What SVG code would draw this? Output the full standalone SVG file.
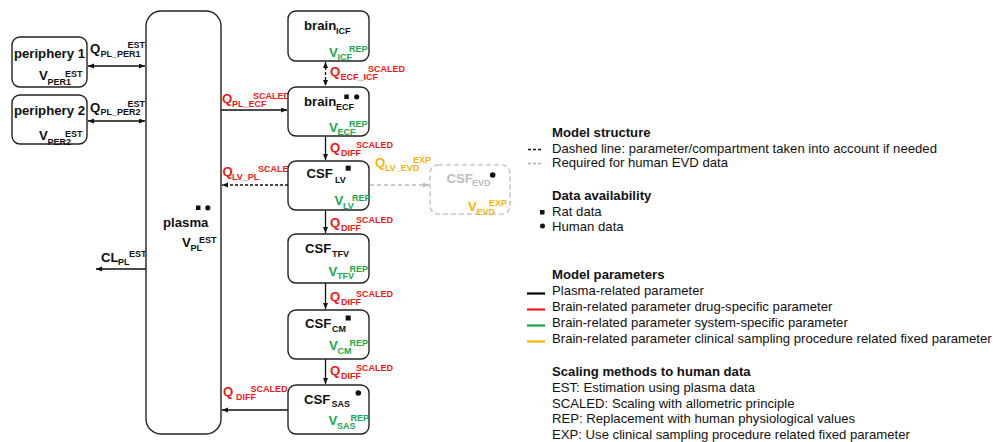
<svg xmlns="http://www.w3.org/2000/svg" width="993" height="442" viewBox="0 0 993 442">
<style>
.box{fill:#fff;stroke:#222;stroke-width:1.4}
.evd{fill:#fff;stroke:#c8c8c8;stroke-width:1.6;stroke-dasharray:5 3}
text{font-family:"Liberation Sans",Arial,Helvetica,sans-serif}
.t{font-weight:bold;fill:#111}
.n{font-size:13.2px}
.s{font-size:9px}
.r{fill:#f51616}
.g{fill:#17a84b}
.o{fill:#f7b500}
.gr{fill:#bdbdbd}
.lg{font-size:13.15px;fill:#111}
.lgb{font-size:13.15px;font-weight:bold;fill:#111}
.ln{stroke:#111;stroke-width:1.3;fill:none}
.dash{stroke-dasharray:3 2}
.gln{stroke:#bdbdbd;stroke-width:1.5;stroke-dasharray:4 3;fill:none}
</style>
<defs>
<marker id="ah" markerUnits="userSpaceOnUse" markerWidth="7" markerHeight="6" refX="6" refY="2.5" orient="auto-start-reverse"><path d="M0,0 L6,2.5 L0,5 z" fill="#111"/></marker>
<marker id="ahg" markerUnits="userSpaceOnUse" markerWidth="7" markerHeight="6" refX="6" refY="2.5" orient="auto-start-reverse"><path d="M0,0 L6,2.5 L0,5 z" fill="#bdbdbd"/></marker>
</defs>

<g id="connectors">
<line class="ln" x1="88" y1="66" x2="145" y2="66" marker-start="url(#ah)" marker-end="url(#ah)"/>
<line class="ln" x1="88" y1="121" x2="145" y2="121" marker-start="url(#ah)" marker-end="url(#ah)"/>
<line class="ln" x1="146" y1="269" x2="96" y2="269" marker-end="url(#ah)"/>
<line class="ln" x1="221" y1="110" x2="287" y2="110" marker-end="url(#ah)"/>
<line class="ln dash" x1="325.5" y1="62" x2="325.5" y2="86" marker-start="url(#ah)" marker-end="url(#ah)"/>
<line class="ln" x1="325.5" y1="136" x2="325.5" y2="160" marker-end="url(#ah)"/>
<line class="ln" x1="325.5" y1="210" x2="325.5" y2="233" marker-end="url(#ah)"/>
<line class="ln" x1="325.5" y1="283" x2="325.5" y2="309" marker-end="url(#ah)"/>
<line class="ln" x1="325.5" y1="359" x2="325.5" y2="384" marker-end="url(#ah)"/>
<line class="ln dash" x1="288" y1="185" x2="222" y2="185" marker-end="url(#ah)"/>
<line class="ln" x1="288" y1="410" x2="222" y2="410" marker-end="url(#ah)"/>
<line class="gln" x1="370" y1="185" x2="429" y2="185" marker-end="url(#ahg)"/>
</g>

<g id="connector-labels">
<text class="t"><tspan class="n" x="90" y="53">Q</tspan><tspan class="s" x="100.5" y="56.5">PL_PER1</tspan><tspan class="s" x="127.5" y="48">EST</tspan></text>
<text class="t"><tspan class="n" x="90" y="111.5">Q</tspan><tspan class="s" x="100.5" y="115">PL_PER2</tspan><tspan class="s" x="127.5" y="106.5">EST</tspan></text>
<text class="t"><tspan class="n" x="101" y="261.5">CL</tspan><tspan class="s" x="118" y="264.5">PL</tspan><tspan class="s" x="129" y="256.5">EST</tspan></text>
<text class="t r"><tspan class="n" x="222" y="103">Q</tspan><tspan class="s" x="232" y="106.5">PL_ECF</tspan><tspan class="s" x="253" y="98.5">SCALED</tspan></text>
<text class="t r"><tspan class="n" x="330" y="76">Q</tspan><tspan class="s" x="340.5" y="79.5">ECF_ICF</tspan><tspan class="s" x="368" y="71.5">SCALED</tspan></text>
<text class="t r"><tspan class="n" x="330" y="151.5">Q</tspan><tspan class="s" x="341" y="155.5">DIFF</tspan><tspan class="s" x="356" y="147.5">SCALED</tspan></text>
<text class="t r"><tspan class="n" x="330" y="226.5">Q</tspan><tspan class="s" x="341" y="230.5">DIFF</tspan><tspan class="s" x="356" y="222.5">SCALED</tspan></text>
<text class="t r"><tspan class="n" x="330" y="300.5">Q</tspan><tspan class="s" x="341" y="304.5">DIFF</tspan><tspan class="s" x="356" y="296.5">SCALED</tspan></text>
<text class="t r"><tspan class="n" x="330" y="375">Q</tspan><tspan class="s" x="341" y="379">DIFF</tspan><tspan class="s" x="356" y="371">SCALED</tspan></text>
<text class="t r"><tspan class="n" x="222.5" y="176">Q</tspan><tspan class="s" x="232" y="179.5">LV_PL</tspan><tspan class="s" x="258" y="171.5">SCALED</tspan></text>
<text class="t o"><tspan class="n" x="375" y="167">Q</tspan><tspan class="s" x="385" y="170.5">LV_EVD</tspan><tspan class="s" x="413" y="162.5">EXP</tspan></text>
<text class="t r"><tspan class="n" x="223" y="396">Q</tspan><tspan class="s" x="236" y="399.5">DIFF</tspan><tspan class="s" x="250.5" y="391.5">SCALED</tspan></text>
</g>

<g id="periphery1">
<rect class="box" x="12" y="37" width="75" height="50" rx="8"/>
<text class="t n" x="49.5" y="58" text-anchor="middle">periphery 1</text>
<text class="t"><tspan class="n" x="39" y="80">V</tspan><tspan class="s" x="47.5" y="84.5">PER1</tspan><tspan class="s" x="65" y="77">EST</tspan></text>
</g>

<g id="periphery2">
<rect class="box" x="12" y="95" width="75" height="49" rx="8"/>
<text class="t n" x="49.5" y="115" text-anchor="middle">periphery 2</text>
<text class="t"><tspan class="n" x="39" y="140">V</tspan><tspan class="s" x="47.5" y="144.5">PER2</tspan><tspan class="s" x="65" y="137">EST</tspan></text>
</g>

<g id="plasma">
<rect class="box" x="146" y="11" width="75" height="423" rx="15"/>
<rect x="196" y="205.5" width="4.5" height="4.5" fill="#111"/>
<circle cx="207.8" cy="207.8" r="2.6" fill="#111"/>
<text class="t n" x="163" y="227">plasma</text>
<text class="t"><tspan class="n" x="182" y="247">V</tspan><tspan class="s" x="190.5" y="250.5">PL</tspan><tspan class="s" x="199" y="242.5">EST</tspan></text>
</g>

<g id="brain_ICF">
<rect class="box" x="288" y="11" width="81" height="50" rx="8"/>
<text class="t"><tspan class="n" x="304" y="30">brain</tspan><tspan class="s" x="336" y="34">ICF</tspan></text>
<text class="t g"><tspan class="n" x="329" y="56.5">V</tspan><tspan class="s" x="337.5" y="60">ICF</tspan><tspan class="s" x="349" y="52">REP</tspan></text>
</g>

<g id="brain_ECF">
<rect class="box" x="288" y="87" width="81" height="49" rx="8"/>
<rect x="344.3" y="94.5" width="4.5" height="4.5" fill="#111"/>
<circle cx="356.7" cy="96.8" r="2.6" fill="#111"/>
<text class="t"><tspan class="n" x="304" y="106">brain</tspan><tspan class="s" x="336" y="110">ECF</tspan></text>
<text class="t g"><tspan class="n" x="329" y="131.5">V</tspan><tspan class="s" x="337.5" y="135">ECF</tspan><tspan class="s" x="349" y="127">REP</tspan></text>
</g>

<g id="CSF_LV">
<rect class="box" x="288" y="161" width="81" height="49" rx="8"/>
<rect x="345.7" y="165.7" width="5" height="5" fill="#111"/>
<text class="t"><tspan class="n" x="306.5" y="178">CSF</tspan><tspan class="s" x="335" y="182.5">LV</tspan></text>
<text class="t g"><tspan class="n" x="334.5" y="205">V</tspan><tspan class="s" x="343" y="208.5">LV</tspan><tspan class="s" x="352" y="200.5">REP</tspan></text>
</g>

<g id="CSF_TFV">
<rect class="box" x="288" y="234" width="81" height="49" rx="8"/>
<text class="t"><tspan class="n" x="305" y="253">CSF</tspan><tspan class="s" x="332" y="256.5">TFV</tspan></text>
<text class="t g"><tspan class="n" x="328.5" y="276">V</tspan><tspan class="s" x="337" y="279">TFV</tspan><tspan class="s" x="349.5" y="271.5">REP</tspan></text>
</g>

<g id="CSF_CM">
<rect class="box" x="288" y="310" width="81" height="49" rx="8"/>
<rect x="345.7" y="315.5" width="5" height="5" fill="#111"/>
<text class="t"><tspan class="n" x="305" y="328">CSF</tspan><tspan class="s" x="332" y="331.5">CM</tspan></text>
<text class="t g"><tspan class="n" x="329" y="350">V</tspan><tspan class="s" x="337.5" y="353.5">CM</tspan><tspan class="s" x="349.5" y="346">REP</tspan></text>
</g>

<g id="CSF_SAS">
<rect class="box" x="288" y="385" width="81" height="49" rx="8"/>
<circle cx="358.3" cy="393" r="2.8" fill="#111"/>
<text class="t"><tspan class="n" x="304" y="403.5">CSF</tspan><tspan class="s" x="331.5" y="407">SAS</tspan></text>
<text class="t g"><tspan class="n" x="328.5" y="425">V</tspan><tspan class="s" x="337" y="428.5">SAS</tspan><tspan class="s" x="350.5" y="420.5">REP</tspan></text>
</g>

<g id="CSF_EVD">
<rect class="evd" x="430" y="165" width="80" height="49" rx="8"/>
<circle cx="492.7" cy="175" r="2.8" fill="#111"/>
<text class="t gr"><tspan class="n" x="446.5" y="182.5">CSF</tspan><tspan class="s" x="472" y="186">EVD</tspan></text>
<text class="t o"><tspan class="n" x="468" y="211">V</tspan><tspan class="s" x="476.5" y="214.5">EVD</tspan><tspan class="s" x="489" y="206">EXP</tspan></text>
</g>

<g id="legend">
<text class="lgb" x="552" y="137">Model structure</text>
<line x1="528" y1="149.5" x2="541" y2="149.5" stroke="#111" stroke-width="1.5" stroke-dasharray="3 2"/>
<text class="lg" x="552" y="153">Dashed line: parameter/compartment taken into account if needed</text>
<line x1="528" y1="163.5" x2="541" y2="163.5" stroke="#b0b0b0" stroke-width="1.5" stroke-dasharray="3 2"/>
<text class="lg" x="552" y="167">Required for human EVD data</text>
<text class="lgb" x="552" y="200">Data availability</text>
<rect x="540" y="210" width="4.5" height="4.5" fill="#111"/>
<text class="lg" x="552" y="216">Rat data</text>
<circle cx="542.5" cy="226" r="2.5" fill="#111"/>
<text class="lg" x="552" y="231">Human data</text>
<text class="lgb" x="552" y="279">Model parameters</text>
<line x1="527" y1="293.5" x2="545" y2="293.5" stroke="#000" stroke-width="2.2"/>
<text class="lg" x="552" y="295">Plasma-related parameter</text>
<line x1="527" y1="309.5" x2="545" y2="309.5" stroke="#f51616" stroke-width="2.2"/>
<text class="lg" x="552" y="311">Brain-related parameter drug-specific parameter</text>
<line x1="527" y1="325.5" x2="545" y2="325.5" stroke="#17a84b" stroke-width="2.2"/>
<text class="lg" x="552" y="327">Brain-related parameter system-specific parameter</text>
<line x1="527" y1="341.5" x2="545" y2="341.5" stroke="#f7b500" stroke-width="2.2"/>
<text class="lg" x="552" y="343">Brain-related parameter clinical sampling procedure related fixed parameter</text>
<text class="lgb" x="552" y="376">Scaling methods to human data</text>
<text class="lg" x="552" y="392">EST: Estimation using plasma data</text>
<text class="lg" x="552" y="407.5">SCALED: Scaling with allometric principle</text>
<text class="lg" x="552" y="423">REP: Replacement with human physiological values</text>
<text class="lg" x="552" y="438.5">EXP: Use clinical sampling procedure related fixed parameter</text>
</g>
</svg>
